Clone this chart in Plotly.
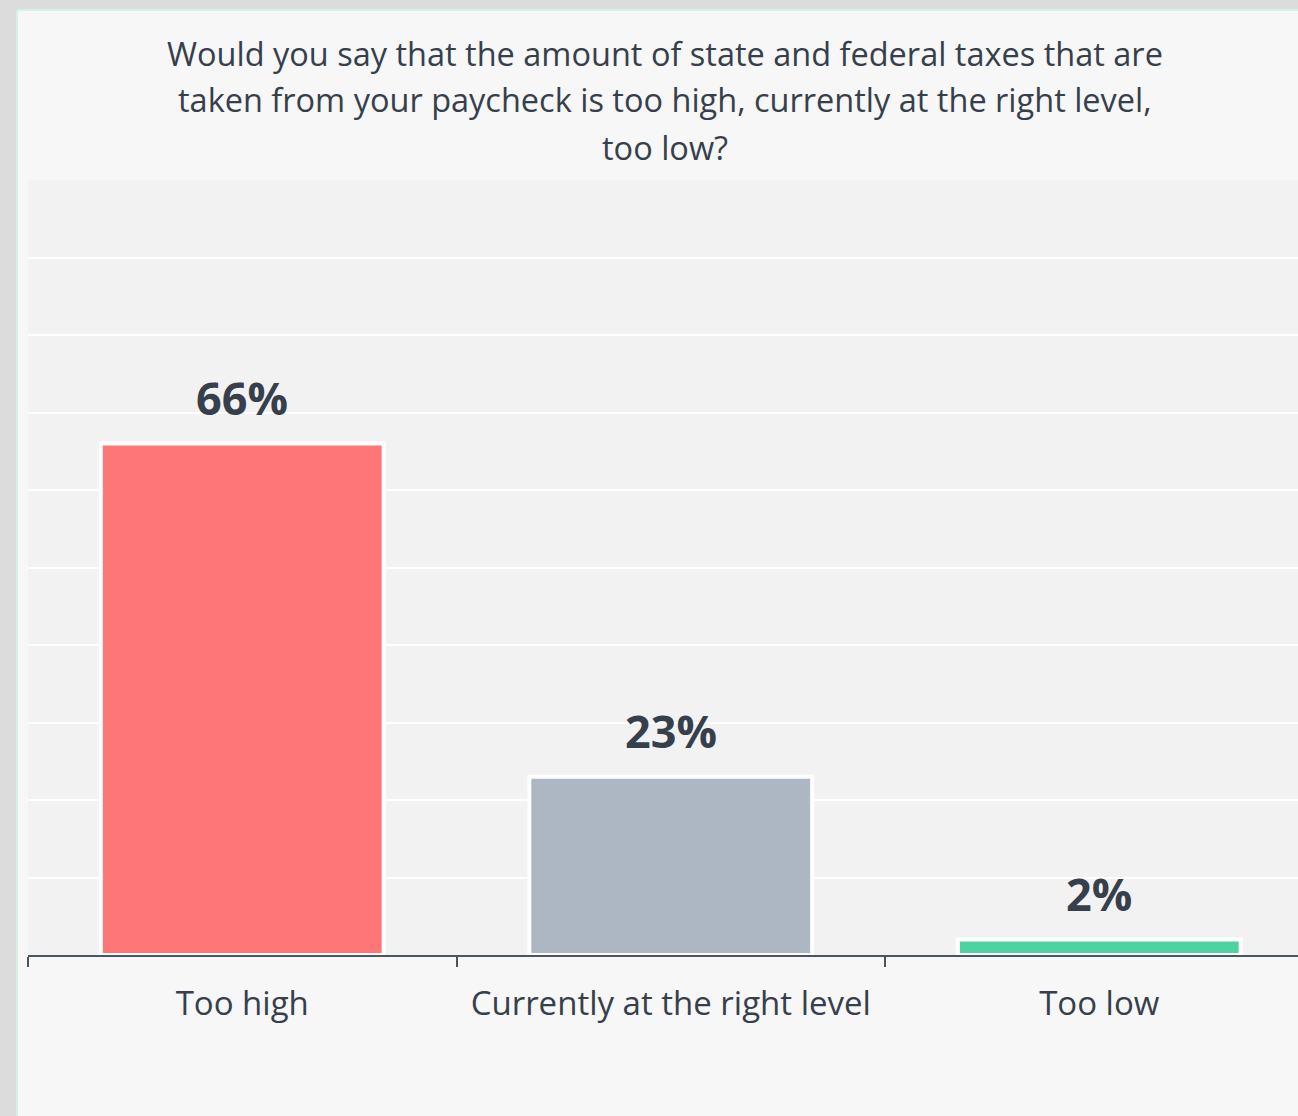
import plotly.graph_objects as go

categories = ["Too high", "Currently at the right level", "Too low"]
values = [66, 23, 2]
labels = ["66%", "23%", "2%"]
colors = ["#FF7676", "#ADB7C3", "#4DD2A0"]

title_lines = [
    "Would you say that the amount of state and federal taxes that are",
    "taken from your paycheck is too high, currently at the right level,",
    "too low?",
]
title_line_centers_px = [53, 100, 147]

W, H = 1298, 1116
ml, mt, mb, mr = 28, 180, 161, 0
pw, ph = W - ml - mr, H - mt - mb
cat_w = 428.5
x_end = -0.5 + pw / cat_w

text_color = "#36404C"
font_family = "'Open Sans', sans-serif"


def px_x(p):
    return (p - ml) / pw


def px_y(p):
    return (H - mb - p) / ph


fig = go.Figure()
fig.add_trace(go.Bar(
    x=categories, y=values,
    marker=dict(color=colors, line=dict(color="white", width=4)),
    width=0.66,
    hoverinfo="skip",
))

for c, v, t in zip(categories, values, labels):
    fig.add_annotation(x=c, y=v, text=f"<b>{t}</b>", showarrow=False,
                       yanchor="bottom", yshift=14,
                       font=dict(size=45, color=text_color, family=font_family))

for line, cy in zip(title_lines, title_line_centers_px):
    fig.add_annotation(xref="paper", yref="paper", x=px_x(665), y=px_y(cy),
                       xanchor="center", yanchor="middle", showarrow=False,
                       text=line,
                       font=dict(size=32.5, color=text_color, family=font_family))

# outer shadow strips and card border
fig.add_shape(type="rect", xref="paper", yref="paper", layer="below",
              x0=px_x(0), x1=px_x(16), y0=px_y(H), y1=px_y(0),
              fillcolor="#DCDCDC", line=dict(width=0))
fig.add_shape(type="rect", xref="paper", yref="paper", layer="below",
              x0=px_x(0), x1=px_x(W), y0=px_y(10), y1=px_y(0),
              fillcolor="#DCDCDC", line=dict(width=0))
fig.add_shape(type="line", xref="paper", yref="paper", layer="below",
              x0=px_x(17), x1=px_x(17), y0=px_y(H), y1=px_y(10),
              line=dict(color="#D6F0E6", width=2))
fig.add_shape(type="line", xref="paper", yref="paper", layer="below",
              x0=px_x(17), x1=px_x(W), y0=px_y(10), y1=px_y(10),
              line=dict(color="#D6F0E6", width=2))

fig.update_layout(
    width=W, height=H,
    margin=dict(l=ml, r=mr, t=mt, b=mb, pad=0),
    paper_bgcolor="#F7F7F7",
    plot_bgcolor="#F2F2F2",
    showlegend=False,
    xaxis=dict(
        type="category", range=[-0.5, x_end],
        tickson="boundaries", ticks="outside", ticklen=10, tickwidth=2,
        tickcolor="#4A5562",
        showline=True, linecolor="#4A5562", linewidth=2,
        showgrid=False, zeroline=False,
        tickfont=dict(size=33, color=text_color, family=font_family),
        ticklabelstandoff=18,
        fixedrange=True,
    ),
    yaxis=dict(
        range=[0, 100], dtick=10, showticklabels=False,
        showgrid=True, gridcolor="#FFFFFF", gridwidth=2,
        zeroline=False, showline=False, fixedrange=True,
    ),
)

fig.write_html(
    "out.html",
    config={"displayModeBar": False},
    post_script="document.body.style.margin='0';document.body.style.overflow='hidden';",
)
